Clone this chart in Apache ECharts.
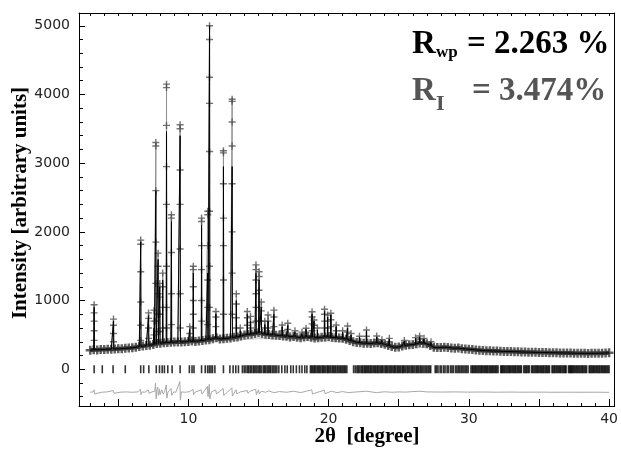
<!DOCTYPE html>
<html><head><meta charset="utf-8">
<script src="https://cdn.jsdelivr.net/npm/echarts@6/dist/echarts.min.js"></script>
<style>html,body{margin:0;padding:0;background:#fff}#c{width:621px;height:451px}</style>
</head><body><div id="c"></div>
<script>
// ---- tick labels ----
const xTickLabels = [10, 20, 30, 40];
const yTickLabels = [0, 1000, 2000, 3000, 4000, 5000];

// ---- observed background band (2theta, intensity) ----
const bgObs = [
[3.0,275],[3.25,285],[3.5,282],[3.75,286],[4.0,288],[4.25,292],[4.5,290],[4.75,296],[5.0,298],[5.25,300],
[5.5,305],[5.75,308],[6.0,312],[6.25,320],[6.5,330],[6.75,338],[7.0,345],[7.25,350],[7.5,360],[7.75,375],
[8.0,380],[8.25,385],[8.5,390],[8.75,392],[9.0,395],[9.25,398],[9.5,395],[9.75,400],[10.0,405],[10.25,410],
[10.5,405],[10.75,412],[11.0,420],[11.25,425],[11.5,430],[11.75,445],[12.0,460],[12.25,440],[12.5,445],[12.75,450],
[13.0,455],[13.25,465],[13.5,470],[13.75,485],[14.0,500],[14.25,505],[14.5,510],[14.75,520],[15.0,530],[15.25,520],
[15.5,510],[15.75,505],[16.0,500],[16.25,495],[16.5,490],[16.75,485],[17.0,480],[17.25,470],[17.5,475],[17.75,465],
[18.0,460],[18.25,470],[18.5,475],[18.75,465],[19.0,455],[19.25,460],[19.5,465],[19.75,470],[20.0,475],[20.25,465],
[20.5,460],[20.75,455],[21.0,450],[21.25,435],[21.5,420],[21.75,400],[22.0,390],[22.25,385],[22.5,380],[22.75,378],
[23.0,375],[23.25,382],[23.5,385],[23.75,375],[24.0,365],[24.25,345],[24.5,330],[24.75,320],[25.0,325],[25.25,340],
[25.5,350],[25.75,355],[26.0,360],[26.25,370],[26.5,385],[26.75,380],[27.0,370],[27.25,345],[27.5,320],[27.75,315],
[28.0,318],[28.25,322],[28.5,318],[28.75,310],[29.0,305],[29.25,308],[29.5,300],[29.75,295],[30.0,292],[30.25,288],
[30.5,282],[30.75,278],[31.0,272],[31.25,270],[31.5,268],[31.75,266],[32.0,265],[32.25,262],[32.5,260],[32.75,258],
[33.0,257],[33.25,255],[33.5,254],[33.75,252],[34.0,250],[34.25,249],[34.5,248],[34.75,246],[35.0,245],[35.25,244],
[35.5,242],[35.75,241],[36.0,240],[36.25,239],[36.5,238],[36.75,237],[37.0,236],[37.25,235],[37.5,234],[37.75,233],
[38.0,232],[38.25,232],[38.5,231],[38.75,232],[39.0,232],[39.25,233],[39.5,234],[39.75,236],[40.0,240]
];

// ---- refined background curve ----
const bgCalc = [[3,265],[5,285],[7,330],[9,370],[11,400],[13,420],[15,445],[17,440],[19,420],[21,400],
[23,350],[25,305],[27,320],[29,290],[31,262],[33,250],[35,240],[38,230],[40,232]];

// ---- reflections: position, observed top, calculated top, base, extra observed points on the flanks ----
const peakPos  = [3.28,4.66,6.60,7.16,7.55,7.68,7.84,7.96,8.17,8.44,8.79,9.41,10.10,10.35,10.94,11.38,11.51,11.96,12.50,13.12,13.42,13.70,14.20,14.43,14.82,15.04,15.20,15.45,15.68,16.10,16.69,17.09,17.60,18.10,18.39,18.82,18.96,19.20,19.71,19.93,20.16,20.54,21.00,21.35,21.60,22.20,22.70,23.43,23.80,24.33,25.40,26.20,26.49,26.80,27.30];
const peakObs  = [940,730,1880,820,860,3300,1690,1250,1400,4150,2250,3560,620,1500,2200,2300,5000,840,3180,3930,1100,600,840,770,1520,1420,980,700,790,860,645,670,560,540,597,838,718,600,873,790,815,645,560,630,520,480,572,485,430,450,420,460,485,450,400];
const peakCalc = [900,700,1850,780,600,2600,1600,1200,1300,3460,2150,3400,580,1400,2100,1400,5000,800,2950,2950,1000,560,800,700,1400,1300,900,650,700,800,620,640,540,520,580,800,700,570,840,760,790,620,540,600,500,470,560,470,420,440,410,450,470,440,390];
const peakBase = [285,295,330,348,360,365,375,378,382,388,392,396,405,408,418,428,430,455,445,460,470,480,505,510,520,528,520,512,505,500,487,480,472,462,472,466,462,458,470,472,465,460,450,428,420,385,378,384,373,340,346,365,383,378,340];
const peakLevels = [
[820,700,560,420],[640,520,400],[1820,1420,980,640,420],[740,600,450],[700,500],
[3250,2600,1850,1250,700],[1500,1100,800,550],[1050,800,550],[1200,900,600],[4100,3550,2950,2400,1500,900,600],
[2200,1700,1100,650],[3500,2900,2400,1750,1100,600],[520],[1450,1200,1000,800,600],[2150,1800,1450,1000,700],
[2250,1800,1300,900,650],[4800,4250,3870,3170,2300,1500,900],[760,620],[3150,2700,2200,1800,1300,800],[3900,3600,3250,2700,2000,1400,800],
[950,750,600],[],[750,640],[680,600],[1450,1300,1100,900,700],
[1350,1150,900,700],[850,700],[600],[700,600],[760,620],
[560],[580],[],[],[540],[760,660,560],[640],[],[800,700,600],[700,600],
[720,620],[560],[],[540],[],[],[480],[430],[],[400],[],[],[440],[],[]
];

// ---- difference curve ----
const diffPts = [
[3.0,-335],[3.2,-330],[3.27,-300],[3.31,-360],[3.4,-332],[3.8,-335],[4.2,-330],[4.63,-310],[4.69,-350],[4.8,-332],
[5.2,-333],[5.6,-330],[6.0,-335],[6.4,-330],[6.58,-290],[6.62,-370],[6.7,-330],[6.9,-335],[7.15,-300],[7.19,-350],
[7.4,-330],[7.6,-320],[7.66,-200],[7.7,-430],[7.75,-300],[7.82,-260],[7.86,-380],[7.94,-290],[7.98,-370],[8.1,-300],
[8.2,-360],[8.3,-330],[8.42,-230],[8.46,-420],[8.55,-330],[8.77,-280],[8.81,-380],[8.95,-330],[9.1,-335],[9.39,-180],
[9.43,-450],[9.5,-330],[9.8,-335],[10.1,-325],[10.33,-290],[10.37,-370],[10.5,-330],[10.92,-300],[10.96,-360],[11.1,-330],
[11.35,-250],[11.4,-400],[11.49,-220],[11.53,-430],[11.65,-330],[11.95,-300],[12.0,-360],[12.2,-330],[12.48,-280],[12.52,-380],
[12.8,-332],[13.1,-270],[13.14,-390],[13.4,-300],[13.45,-360],[13.7,-330],[14.2,-310],[14.25,-350],[14.4,-320],[14.8,-290],
[14.85,-370],[15.0,-300],[15.06,-360],[15.2,-320],[15.5,-335],[15.7,-315],[16.1,-340],[16.5,-325],[17.0,-335],[17.5,-320],
[18.0,-340],[18.4,-320],[18.8,-300],[18.85,-360],[19.3,-330],[19.7,-305],[19.75,-355],[20.2,-320],[20.6,-340],[21.0,-325],
[21.4,-340],[22.0,-330],[22.7,-320],[23.4,-340],[24.0,-328],[24.5,-335],[25.0,-330],[25.5,-333],[26.0,-325],[26.5,-320],
[26.6,-340],[27.0,-330],[28.0,-332],[29.0,-330],[30.0,-333],[31.0,-331],[32.0,-334],[33.0,-332],[34.0,-334],[35.0,-333],
[36.0,-335],[37.0,-334],[38.0,-335],[39.0,-334],[40.0,-336]
];

// ---- Bragg reflection positions ----
const braggPos = [
3.28,3.86,4.63,5.5,6.6,6.81,7.18,7.71,7.94,8.13,8.29,8.53,8.84,9.41,10.07,10.26,10.4,10.94,11.2,11.37,11.49,11.61,11.72,11.89,
12.5,12.96,13.19,13.38,13.57,13.85,13.98,14.1,14.22,14.3,14.41,14.5,14.62,14.7,14.81,14.9,15.02,15.1,15.19,15.33,15.42,15.5,
15.61,15.7,15.8,15.88,16.0,16.1,16.2,16.31,16.45,16.66,16.88,17.05,17.3,17.48,17.7,17.92,18.1,18.3,18.45,
18.7,18.78,18.86,18.95,19.02,19.1,19.2,19.28,19.36,19.45,19.55,19.62,19.7,19.8,19.9,19.97,20.05,20.15,20.25,20.33,20.42,20.5,
20.6,20.68,20.78,20.86,20.95,21.03,21.12,21.2,21.3,
21.78,21.9,22.02,22.1,22.18,22.3,22.38,22.45,22.55,22.62,22.7,22.78,22.86,22.95,23.02,23.1,23.2,23.28,23.36,23.45,23.52,23.6,
23.7,23.78,23.85,23.95,24.05,24.12,24.2,24.3,24.38,24.46,24.55,24.65,24.72,24.8,24.9,24.98,25.06,25.15,25.25,25.32,25.4,25.5,
25.6,25.68,25.78,25.88,25.96,26.05,26.15,26.25,26.33,26.42,26.52,26.6,26.7,26.8,26.9,27.0,27.1,27.2,27.28,
27.6,27.7,27.8,27.95,28.05,28.2,28.3,28.45,28.55,28.7,28.8,28.9,29.05,29.15,29.25,29.35,29.45,29.55,29.65,29.75,29.85,29.95,
30.15,30.24,30.31,30.4,30.47,30.55,30.64,30.72,30.8,30.88,30.95,31.04,31.12,31.2,31.27,31.35,31.44,31.52,31.6,31.68,31.75,
31.84,31.92,32.0,32.08,32.27,32.34,32.4,32.48,32.55,32.64,32.72,32.8,32.88,32.95,33.04,33.12,33.2,33.28,33.35,33.44,33.52,
33.6,33.68,33.75,33.92,34.0,34.08,34.15,34.24,34.32,34.48,34.55,34.64,34.72,34.8,34.88,34.95,35.04,35.12,35.2,35.28,35.35,
35.44,35.52,35.6,35.68,35.75,35.93,36.0,36.08,36.15,36.24,36.32,36.4,36.48,36.55,36.64,36.72,36.8,36.88,36.93,37.1,37.18,
37.24,37.3,37.37,37.44,37.52,37.6,37.68,37.75,37.84,37.92,38.0,38.08,38.15,38.24,38.32,38.4,38.58,38.64,38.72,38.8,38.88,
38.95,39.04,39.12,39.2,39.28,39.35,39.44,39.52,39.6,39.68,39.75,39.84,39.92,40.0
];

// ---- build series tables ----
function profile(tops) {
  const pts = bgObs.map(p => [p[0], p[1]]);
  peakPos.forEach((x, i) => {
    pts.push([x - 0.02, peakBase[i]], [x, tops[i]], [x + 0.02, peakBase[i]]);
  });
  pts.sort((a, b) => a[0] - b[0]);
  return pts;
}
const obsLine = profile(peakObs);
const calcLine = profile(peakCalc);
const bandPts = bgObs.map(p => [p[0], p[1]]);
const peakCrosses = [];
peakPos.forEach((x, i) => {
  peakCrosses.push([x, peakObs[i]]);
  peakLevels[i].forEach(v => peakCrosses.push([x, v]));
});
const braggData = braggPos.map(x => [x, 0]);

const plus = 'path://M4,0h2v4h4v2h-4v4h-2v-4h-4v-2h4z';
const plusThick = 'path://M3.6,0h2.8v3.6h3.6v2.8h-3.6v3.6h-2.8v-3.6h-3.6v-2.8h3.6z';
const serif = '"Liberation Serif","Times New Roman",serif';

const chart = echarts.init(document.getElementById('c'), null, {renderer: 'canvas'});
const axisCommon = {
  type: 'value', scale: false,
  axisLine: {show: true, onZero: false, lineStyle: {color: '#000', width: 1}},
  splitLine: {show: false},
};
chart.setOption({
  animation: false,
  backgroundColor: '#fff',
  grid: {left: 79, right: 3, top: 13, bottom: 45, containLabel: false},
  xAxis: [
    Object.assign({}, axisCommon, {
      min: 2.2, max: 40.4, splitNumber: 8, position: 'bottom',
      axisTick: {show: true, inside: true, length: 7, lineStyle: {color: '#000'}},
      minorTick: {show: true, splitNumber: 5, length: 3, lineStyle: {color: '#000'}},
      axisLabel: {show: true, margin: 6, color: '#222', fontSize: 14, fontFamily: '"DejaVu Sans"',
        showMinLabel: false, showMaxLabel: true,
        formatter: v => xTickLabels.indexOf(Math.round(v * 1000) / 1000) >= 0 ? String(v) : ''}
    }),
    Object.assign({}, axisCommon, {
      min: 2.2, max: 40.4, splitNumber: 8, position: 'top',
      axisTick: {show: true, inside: true, length: 3, lineStyle: {color: '#000'}},
      minorTick: {show: true, splitNumber: 5, length: 3, lineStyle: {color: '#000'}},
      axisLabel: {show: false}
    })
  ],
  yAxis: [
    Object.assign({}, axisCommon, {
      min: -535, max: 5186, splitNumber: 5, position: 'left',
      axisTick: {show: true, inside: true, length: 6, lineStyle: {color: '#000'}},
      minorTick: {show: true, splitNumber: 5, length: 4, lineStyle: {color: '#000'}},
      axisLabel: {show: true, margin: 9, color: '#222', fontSize: 14, fontFamily: '"DejaVu Sans"',
        showMinLabel: false, showMaxLabel: false,
        formatter: v => yTickLabels.indexOf(Math.round(v)) >= 0 && Math.abs(v - Math.round(v)) < 1e-6 ? String(v) : ''}
    }),
    Object.assign({}, axisCommon, {
      min: -535, max: 5186, splitNumber: 5, position: 'right',
      axisTick: {show: false}, minorTick: {show: false}, axisLabel: {show: false}
    })
  ],
  series: [
    {type: 'line', name: 'background', data: bgCalc, showSymbol: false, smooth: false,
      lineStyle: {color: '#c8c8c8', width: 1}, z: 1},
    {type: 'line', name: 'observed line', data: obsLine, showSymbol: false,
      lineStyle: {color: '#909090', width: 1}, z: 2},
    {type: 'line', name: 'observed band', data: bandPts, showSymbol: false,
      lineStyle: {color: '#3a3a3a', width: 4}, z: 3},
    {type: 'scatter', name: 'observed', data: bandPts, symbol: plusThick, symbolSize: 9,
      itemStyle: {color: '#3a3a3a'}, z: 3},
    {type: 'scatter', name: 'observed peaks', data: peakCrosses, symbol: plus, symbolSize: 7,
      itemStyle: {color: '#505050'}, z: 3},
    {type: 'line', name: 'calculated', data: calcLine, showSymbol: false,
      lineStyle: {color: '#000', width: 1}, z: 4},
    {type: 'scatter', name: 'Bragg', data: braggData, symbol: 'rect', symbolSize: [1.6, 8],
      itemStyle: {color: '#000'}, z: 4},
    {type: 'line', name: 'difference', data: diffPts, showSymbol: false,
      lineStyle: {color: '#a8a8a8', width: 1}, z: 2}
  ],
  graphic: [
    {type: 'text', z: 10, style: {x: 0, y: 0, text: 'Intensity [arbitrary units]', font: 'bold 21px ' + serif,
      fill: '#000', align: 'center', verticalAlign: 'middle'}, rotation: Math.PI / 2, x: 21, y: 203},
    {type: 'text', z: 10, style: {x: 367, y: 437, text: '2\u03b8  [degree]', font: 'bold 21px ' + serif,
      fill: '#000', align: 'center', verticalAlign: 'middle'}},
    {type: 'text', z: 10, style: {x: 412, y: 44, text: 'R', font: 'bold 33px ' + serif, fill: '#000', align: 'left', verticalAlign: 'middle'}},
    {type: 'text', z: 10, style: {x: 436, y: 53, text: 'wp', font: 'bold 17px ' + serif, fill: '#000', align: 'left', verticalAlign: 'middle'}},
    {type: 'text', z: 10, style: {x: 467, y: 44, text: '= 2.263 %', font: 'bold 33px ' + serif, fill: '#000', align: 'left', verticalAlign: 'middle'}},
    {type: 'text', z: 10, style: {x: 412, y: 91, text: 'R', font: 'bold 33px ' + serif, fill: '#555', align: 'left', verticalAlign: 'middle'}},
    {type: 'text', z: 10, style: {x: 436, y: 104, text: 'I', font: 'bold 22px ' + serif, fill: '#555', align: 'left', verticalAlign: 'middle'}},
    {type: 'text', z: 10, style: {x: 472, y: 91, text: '= 3.474%', font: 'bold 33px ' + serif, fill: '#555', align: 'left', verticalAlign: 'middle'}}
  ]
});
</script></body></html>
